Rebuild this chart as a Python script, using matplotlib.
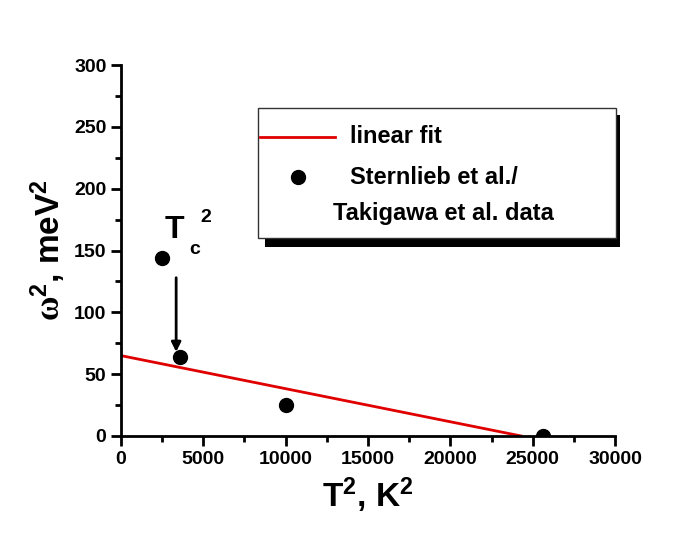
import matplotlib
matplotlib.use("Agg")
import matplotlib.pyplot as plt
from matplotlib.patches import Rectangle
from matplotlib.lines import Line2D

# data: T^2 (K^2) vs omega^2 (meV^2)
t_sq = [2500, 3600, 10000, 25600]
omega_sq = [144, 64, 25, 0]

# linear fit endpoints
fit_x = [0, 24300]
fit_y = [65, 0]

x_ticks = [0, 5000, 10000, 15000, 20000, 25000, 30000]
y_ticks = [0, 50, 100, 150, 200, 250, 300]

plt.rcParams['font.family'] = ['Liberation Sans', 'DejaVu Sans']
plt.rcParams['font.weight'] = 'bold'
plt.rcParams['mathtext.fontset'] = 'custom'
plt.rcParams['mathtext.rm'] = 'Liberation Sans:bold'
plt.rcParams['mathtext.it'] = 'Liberation Sans:bold'
plt.rcParams['mathtext.bf'] = 'Liberation Sans:bold'
plt.rcParams['mathtext.sf'] = 'Liberation Serif:bold'

fig = plt.figure(figsize=(6.82, 5.33), dpi=100)
ax = fig.add_axes([0.1774, 0.182, 0.7244, 0.696])

ax.plot(fit_x, fit_y, color='#e00000', lw=2.0, zorder=3)
# scatter so the dot sitting on the x axis gets clipped to a half circle
ax.scatter(t_sq, omega_sq, s=100, color='black', zorder=4, clip_on=True)

ax.set_xlim(0, 30000)
ax.set_ylim(0, 300)
ax.set_xticks(x_ticks)
ax.set_yticks(y_ticks)
ax.set_xticks([2500, 7500, 12500, 17500, 22500, 27500], minor=True)
ax.set_yticks([25, 75, 125, 175, 225, 275], minor=True)
ax.tick_params(which='major', direction='out', length=7, width=2, labelsize=14)
ax.tick_params(which='minor', direction='out', length=4, width=2)
for lab in ax.get_xticklabels() + ax.get_yticklabels():
    lab.set_fontweight('bold')

for side in ['top', 'right']:
    ax.spines[side].set_visible(False)
for side in ['left', 'bottom']:
    ax.spines[side].set_linewidth(2)
    ax.spines[side].set_zorder(5)

ax.set_xlabel(r'T$^2$, K$^2$', fontsize=24, fontweight='bold', labelpad=6)
ax.set_ylabel(r'$\mathsf{\omega}^2$, meV$^2$', fontsize=24, fontweight='bold', labelpad=4)

# T_c^2 annotation
ax.text(2670, 160, 'T', fontsize=23, fontweight='bold')
ax.text(4130, 147, 'c', fontsize=14, fontweight='bold')
ax.text(4800, 173, '2', fontsize=14, fontweight='bold')
ax.annotate('', xy=(3350, 68), xytext=(3350, 128),
            arrowprops=dict(arrowstyle='-|>', color='black', lw=2,
                            mutation_scale=14, shrinkA=0, shrinkB=0))

# legend box drawn by hand, with black drop shadow
tr = ax.transAxes
shadow = Rectangle((0.2915, 0.509), 0.7186, 0.356, transform=tr, facecolor='black',
                   edgecolor='none', clip_on=False, zorder=5)
box = Rectangle((0.277, 0.534), 0.7247, 0.350, transform=tr, facecolor='white',
                edgecolor='#333333', lw=1, clip_on=False, zorder=6)
ax.add_patch(shadow)
ax.add_patch(box)
ax.add_line(Line2D([0.281, 0.433], [0.806, 0.806], transform=tr, color='#e00000',
                   lw=2, zorder=7, clip_on=False))
ax.add_line(Line2D([0.358], [0.698], transform=tr, marker='o', color='black',
                   ms=10, zorder=7, clip_on=False))
ax.text(0.4636, 0.806, 'linear fit', transform=tr, fontsize=17, fontweight='bold',
        va='center', zorder=7)
ax.text(0.4636, 0.698, 'Sternlieb et al./', transform=tr, fontsize=17,
        fontweight='bold', va='center', zorder=7)
ax.text(0.429, 0.601, 'Takigawa et al. data', transform=tr, fontsize=17,
        fontweight='bold', va='center', zorder=7)

fig.savefig('out.png', dpi=100)
